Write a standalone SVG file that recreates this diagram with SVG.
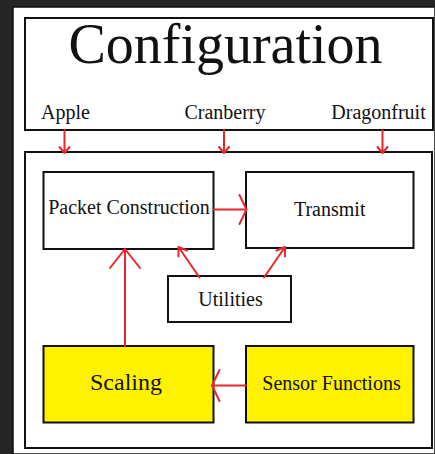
<svg xmlns="http://www.w3.org/2000/svg" width="435" height="454" viewBox="0 0 435 454">
<style>
.box{fill:#fff;stroke:#111;stroke-width:2}
.yel{fill:#fff200;stroke:#111;stroke-width:2}
text{font-family:"Liberation Serif","Times New Roman",serif;fill:#111;text-anchor:middle}
.lbl{font-size:20px}
.c{stroke:#e8262b;stroke-width:2;fill:none;stroke-linecap:round;stroke-linejoin:round}
</style>
<rect x="0" y="0" width="435" height="454" fill="#262626"/>
<rect x="13" y="7" width="422" height="447" fill="#fff" stroke="#111" stroke-width="1.5"/>
<g id="configuration">
<rect class="box" x="25" y="18" width="408" height="112"/>
<text x="225.5" y="63" style="font-size:56px">Configuration</text>
<text class="lbl" x="65.5" y="119">Apple</text>
<text class="lbl" x="225" y="119">Cranberry</text>
<text class="lbl" x="378.5" y="119">Dragonfruit</text>
</g>
<g id="main">
<rect class="box" x="25" y="152" width="407" height="296"/>
</g>
<g id="packet">
<rect class="box" x="43.5" y="172" width="170" height="77"/>
<text class="lbl" x="129" y="214">Packet Construction</text>
</g>
<g id="transmit">
<rect class="box" x="246" y="172" width="167.5" height="76"/>
<text class="lbl" x="329.7" y="216">Transmit</text>
</g>
<g id="utilities">
<rect class="box" x="168" y="276" width="123" height="46"/>
<text class="lbl" x="230.5" y="306">Utilities</text>
</g>
<g id="scaling">
<rect class="yel" x="43.5" y="346" width="170" height="76.5"/>
<text x="126" y="390" style="font-size:24px">Scaling</text>
</g>
<g id="sensor">
<rect class="yel" x="246" y="346" width="167.5" height="76.5"/>
<text class="lbl" x="331.5" y="390">Sensor Functions</text>
</g>
<g id="connectors">
<path class="c" d="M64.5 130V153M59.5 147L64.5 153L69.5 147"/>
<path class="c" d="M224 130V153M219 147L224 153L229 147"/>
<path class="c" d="M382.5 130V153M377.5 147L382.5 153L387.5 147"/>
<path class="c" d="M213.5 209.5H246.5M239.5 195L246.5 209.5L239.5 224"/>
<path class="c" d="M125 346V249M110 268L125 249L140 268"/>
<path class="c" d="M199.5 277.5L178.5 247M178.5 256.5L178.5 247L187 250.5"/>
<path class="c" d="M264 277.5L285 247M276.5 250.5L285 247L285 256.5"/>
<path class="c" d="M246 385.5H212M219.5 370L212 385.5L219.5 401"/>
</g>
</svg>
